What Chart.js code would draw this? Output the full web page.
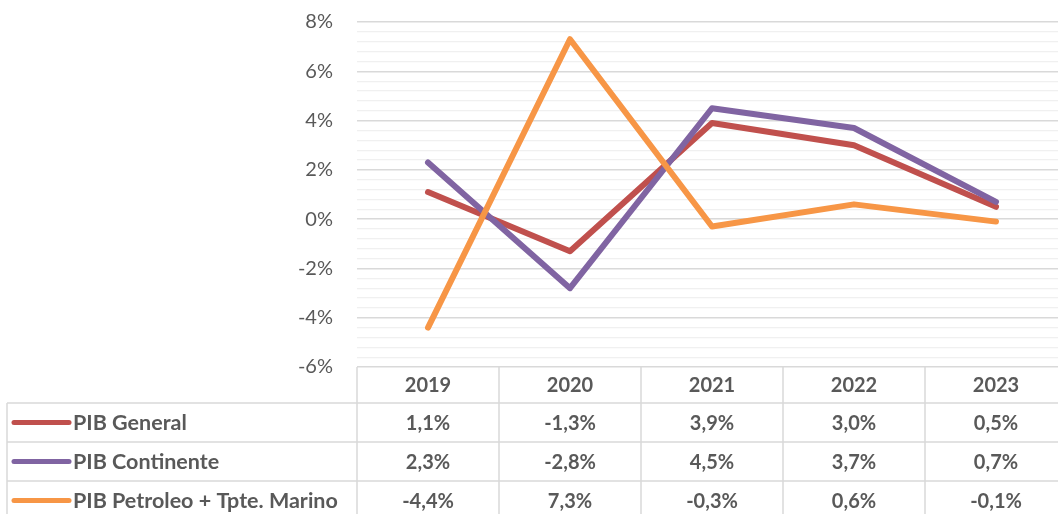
<!DOCTYPE html>
<html>
<head>
<meta charset="utf-8">
<script src="https://cdn.jsdelivr.net/npm/chart.js@4"></script>
<style>
html,body{margin:0;padding:0;overflow:hidden;background:#fff;}
#wrap{position:relative;width:1068px;height:514px;}
</style>
</head>
<body>
<div id="wrap"><canvas id="c"></canvas></div>
<script>
const years = ['2019', '2020', '2021', '2022', '2023'];
const seriesNames = ['PIB General', 'PIB Continente', 'PIB Petroleo + Tpte. Marino'];
const pibGeneral = [1.1, -1.3, 3.9, 3.0, 0.5];
const pibContinente = [2.3, -2.8, 4.5, 3.7, 0.7];
const pibPetroleo = [-4.4, 7.3, -0.3, 0.6, -0.1];
const seriesColors = ['#C0504D', '#8064A2', '#F79646'];
const yMin = -6, yMax = 8, yMajor = 2, yMinor = 0.4;

const TEXT = '#595959';
const BORDER = '#d9d9d9';
const FONT = 'Lato, "Open Sans", sans-serif';

function isMajor(v){ return Math.abs(v / yMajor - Math.round(v / yMajor)) < 1e-6; }
function fmt(v){ return v.toFixed(1).replace('.', ',') + '%'; }

const tablePlugin = {
  id: 'dataTable',
  afterDraw(chart){
    const ctx = chart.ctx;
    const xs = chart.scales.x;
    const ca = chart.chartArea;
    const colW = (ca.right - ca.left) / years.length;
    const headerTop = ca.bottom;
    const headerH = 36;
    const rowH = 39;
    const tableLeft = 7;
    const rowsTop = headerTop + headerH;
    const nRows = chart.data.datasets.length;
    const bottom = rowsTop + rowH * nRows;
    ctx.save();
    ctx.strokeStyle = BORDER;
    ctx.lineWidth = 1.5;
    for (let i = 0; i <= years.length; i++) {
      const x = ca.left + i * colW;
      ctx.beginPath(); ctx.moveTo(x, headerTop); ctx.lineTo(x, bottom); ctx.stroke();
    }
    ctx.beginPath(); ctx.moveTo(tableLeft, rowsTop); ctx.lineTo(tableLeft, bottom); ctx.stroke();
    for (let r = 0; r <= nRows; r++) {
      const y = rowsTop + r * rowH;
      ctx.beginPath(); ctx.moveTo(tableLeft, y); ctx.lineTo(ca.right, y); ctx.stroke();
    }
    ctx.fillStyle = TEXT;
    ctx.font = 'bold 20px ' + FONT;
    ctx.textAlign = 'center';
    ctx.textBaseline = 'middle';
    years.forEach((y, i) => {
      ctx.fillText(y, xs.getPixelForValue(i), headerTop + headerH / 2 + 1);
    });
    chart.data.datasets.forEach((ds, r) => {
      const cy = rowsTop + r * rowH + rowH / 2 + 1;
      ctx.strokeStyle = ds.borderColor;
      ctx.lineWidth = 5;
      ctx.lineCap = 'round';
      ctx.beginPath(); ctx.moveTo(14, cy - 1); ctx.lineTo(69, cy - 1); ctx.stroke();
      ctx.fillStyle = TEXT;
      ctx.textAlign = 'left';
      ctx.font = 'bold 21.5px ' + FONT;
      ctx.fillText(ds.label, 73, cy);
      ctx.font = 'bold 20px ' + FONT;
      ctx.textAlign = 'center';
      ds.data.forEach((v, i) => {
        ctx.fillText(fmt(v), xs.getPixelForValue(i), cy);
      });
    });
    ctx.restore();
  }
};

const seriesData = [pibGeneral, pibContinente, pibPetroleo];
const drawOrder = [2, 1, 0];

new Chart(document.getElementById('c'), {
  type: 'line',
  data: {
    labels: years,
    datasets: seriesData.map((d, i) => ({
      label: seriesNames[i],
      data: d,
      borderColor: seriesColors[i],
      backgroundColor: seriesColors[i],
      borderWidth: 6,
      borderCapStyle: 'round',
      borderJoinStyle: 'round',
      pointRadius: 0,
      tension: 0,
      order: drawOrder[i]
    }))
  },
  options: {
    responsive: true,
    maintainAspectRatio: false,
    animation: false,
    layout: { padding: { top: 22, bottom: 147, left: 0, right: 1 } },
    plugins: { legend: { display: false }, tooltip: { enabled: false } },
    scales: {
      x: {
        type: 'category',
        offset: true,
        display: false
      },
      y: {
        min: yMin,
        max: yMax,
        afterFit(scale){ scale.width = 357; },
        border: { display: false },
        grid: {
          drawTicks: true,
          tickLength: 24,
          tickColor: 'rgba(0,0,0,0)',
          color: (c) => isMajor(c.tick.value) ? '#d9d9d9' : '#f0f0f0',
          lineWidth: (c) => isMajor(c.tick.value) ? 1.5 : 1.2
        },
        ticks: {
          stepSize: yMinor,
          autoSkip: false,
          padding: 0,
          color: TEXT,
          font: { family: FONT, size: 20 },
          callback: (v) => isMajor(v) ? Math.round(v) + '%' : ''
        }
      }
    }
  },
  plugins: [tablePlugin]
});
</script>
</body>
</html>
